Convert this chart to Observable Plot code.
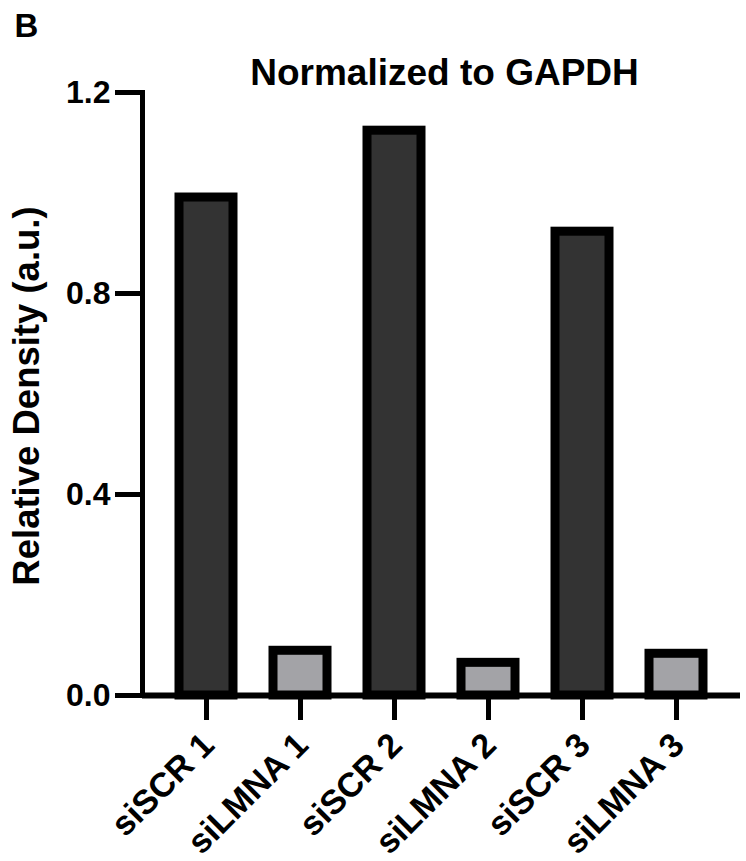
<!DOCTYPE html>
<html>
<head>
<meta charset="utf-8">
<script src="https://cdn.jsdelivr.net/npm/d3@7"></script>
<script src="https://cdn.jsdelivr.net/npm/@observablehq/plot@0.6"></script>
<style>
  html, body { margin: 0; padding: 0; background: #fff; }
  #chart svg { display: block; }
</style>
</head>
<body>
<div id="chart"></div>
<script>
const panelLetter = "B";
const chartTitle = "Normalized to GAPDH";
const yLabel = "Relative Density (a.u.)";
const categories = ["siSCR 1", "siLMNA 1", "siSCR 2", "siLMNA 2", "siSCR 3", "siLMNA 3"];
const groups = ["siSCR", "siLMNA", "siSCR", "siLMNA", "siSCR", "siLMNA"];
const values = [0.991, 0.089, 1.124, 0.065, 0.923, 0.083];
const yTicks = [0, 0.4, 0.8, 1.2];
const groupNames = ["siSCR", "siLMNA"];
const groupColors = ["#333333", "#a3a3a7"];

const data = categories.map((c, i) => ({label: c, group: groups[i], value: values[i]}));

const chart = Plot.plot({
  width: 746,
  height: 861,
  marginLeft: 142,
  marginRight: 6,
  marginTop: 92,
  marginBottom: 166,
  style: {fontFamily: "'Liberation Sans', Arial, Helvetica, sans-serif", color: "#000", background: "#fff"},
  x: {domain: categories, paddingInner: 0.421, paddingOuter: 0.358, axis: null},
  y: {domain: [0, 1.2], axis: null},
  color: {domain: groupNames, range: groupColors},
  marks: [
    Plot.barY(data, {x: "label", y: "value", fill: "group", stroke: "#000", strokeWidth: 9}),
    Plot.ruleY([0], {stroke: "#000", strokeWidth: 6}),
    Plot.frame({anchor: "left", stroke: "#000", strokeWidth: 5}),
    Plot.axisY({ticks: yTicks, tickFormat: d3.format(".1f"), tickSize: 27, tickPadding: 5, strokeWidth: 5, fontSize: 32, fontWeight: "bold", label: null}),
    Plot.axisX({tickSize: 25, strokeWidth: 5, tickFormat: () => "", label: null}),
    Plot.axisX({tickSize: 0, tickRotate: -45, tickPadding: 33, fontSize: 34, fontWeight: "bold", label: null, dx: 2, dy: 11}),
    Plot.text([yLabel], {frameAnchor: "left", textAnchor: "middle", rotate: -90, dx: -115, dy: 2, fontSize: 36.5, fontWeight: "bold", fill: "#000"}),
    Plot.text([chartTitle], {frameAnchor: "top", textAnchor: "middle", lineAnchor: "bottom", dx: 3, dy: -8, fontSize: 37, fontWeight: "bold", fill: "#000"}),
    Plot.text([panelLetter], {frameAnchor: "top-left", textAnchor: "start", lineAnchor: "bottom", dx: -128, dy: -56, fontSize: 33, fontWeight: "bold", fill: "#000"})
  ]
});
document.getElementById("chart").appendChild(chart);
</script>
</body>
</html>
